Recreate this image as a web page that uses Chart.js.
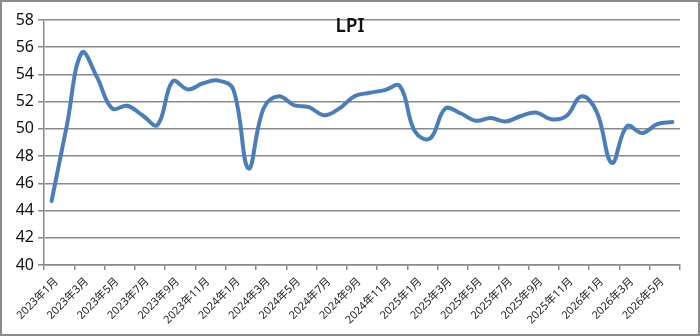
<!DOCTYPE html>
<html>
<head>
<meta charset="utf-8">
<script src="https://cdn.jsdelivr.net/npm/chart.js@4/dist/chart.umd.min.js"></script>
<style>
  html, body { margin: 0; padding: 0; background: #fff; }
  #wrap { position: relative; width: 700px; height: 336px; }
</style>
</head>
<body>
<div id="wrap"><canvas id="lpi"></canvas></div>
<script>
// monthly categories 2023年1月 .. 2026年6月
const months = [];
for (let y = 2023; y <= 2026; y++) {
  for (let m = 1; m <= 12; m++) {
    if (y === 2026 && m > 6) break;
    months.push(y + '年' + m + '月');
  }
}

// LPI values
const lpiValues = [
  44.7, 50.2, 55.6, 53.8, 51.5, 51.7, 51.0, 50.3, 53.5, 52.9, 53.35, 53.55,
  52.9, 47.1, 51.5, 52.4, 51.75, 51.6, 51.0, 51.5, 52.4, 52.65, 52.85, 53.15,
  49.8, 49.3, 51.5, 51.15, 50.6, 50.8, 50.55, 50.95, 51.2, 50.7, 50.95, 52.4,
  51.25, 47.5, 50.2, 49.7, 50.35, 50.5
];

const chartTitle = 'LPI';
const yMin = 40, yMax = 58, yStep = 2;

const FONT = '"Comic Sans MS", "Noto Sans", "Noto Sans CJK SC", sans-serif';
const GRID = '#8a8a8a';

// border round the whole picture + title inside plot
const framePlugin = {
  id: 'frame',
  beforeDraw(chart) {
    const ctx = chart.ctx;
    ctx.save();
    ctx.fillStyle = '#fff';
    ctx.fillRect(0, 0, chart.width, chart.height);
    ctx.restore();
  },
  afterDraw(chart) {
    const ctx = chart.ctx;
    ctx.save();
    ctx.strokeStyle = '#8c8c8c';
    ctx.lineWidth = 2;
    ctx.strokeRect(1, 1, chart.width - 2, chart.height - 2);
    ctx.fillStyle = '#111';
    ctx.font = '600 19px ' + FONT;
    ctx.textAlign = 'center';
    ctx.textBaseline = 'middle';
    ctx.fillText(chartTitle, 350, 27);
    ctx.restore();
  }
};

new Chart(document.getElementById('lpi'), {
  type: 'line',
  data: {
    labels: months,
    datasets: [{
      label: chartTitle,
      data: lpiValues,
      borderColor: '#4a7ebb',
      backgroundColor: '#4a7ebb',
      borderWidth: 4,
      pointRadius: 0,
      tension: 0.4,
      borderCapStyle: 'round',
      borderJoinStyle: 'round'
    }]
  },
  options: {
    animation: false,
    responsive: true,
    maintainAspectRatio: false,
    layout: { padding: { left: 0, right: 20, top: 20, bottom: 0 } },
    plugins: { legend: { display: false }, tooltip: { enabled: false } },
    scales: {
      x: {
        offset: true,
        afterFit(scale) { scale.height = 71; },
        grid: {
          offset: true,
          drawOnChartArea: false,
          drawTicks: true,
          tickLength: 5,
          lineWidth: 1.5,
          color(ctx) { return (ctx.index === undefined || ctx.index % 2 === 0) ? GRID : 'rgba(0,0,0,0)'; }
        },
        border: { color: GRID, width: 1.5 },
        ticks: {
          autoSkip: false,
          maxRotation: 45,
          minRotation: 45,
          padding: 5,
          labelOffset: 5,
          color: '#222',
          font: { family: FONT, size: 11 },
          callback(val, i) { return i % 2 === 0 ? months[i] : ''; }
        }
      },
      y: {
        min: yMin,
        max: yMax,
        afterFit(scale) { scale.width = 44; },
        grid: { color: GRID, lineWidth: 1.5, tickLength: 6 },
        border: { color: GRID, width: 1.5 },
        ticks: {
          stepSize: yStep,
          padding: 4,
          color: '#111',
          font: { family: FONT, size: 16 }
        }
      }
    }
  },
  plugins: [framePlugin]
});
</script>
</body>
</html>
